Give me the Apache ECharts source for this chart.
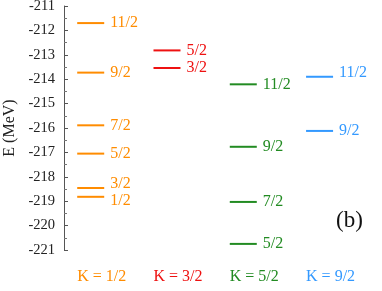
<!DOCTYPE html>
<html>
<head>
<meta charset="utf-8">
<script src="https://cdn.jsdelivr.net/npm/echarts@6/dist/echarts.min.js"></script>
<style>html,body{margin:0;padding:0;background:#fff}#c{width:382px;height:291px}</style>
</head>
<body>
<div id="c"></div>
<script>
// Band columns (K values) and their colours
var bands = ['K = 1/2', 'K = 3/2', 'K = 5/2', 'K = 9/2'];
var bandColors = ['#ff8c00', '#ee1111', '#228b22', '#3399ff'];
// Level energies (MeV) and spin labels per band
var k12Energies = [-211.70, -213.73, -215.89, -217.05, -218.46, -218.82];
var k12Spins = ['11/2', '9/2', '7/2', '5/2', '3/2', '1/2'];
var k32Energies = [-212.82, -213.54];
var k32Spins = ['5/2', '3/2'];
var k52Energies = [-214.21, -216.77, -219.03, -220.75];
var k52Spins = ['11/2', '9/2', '7/2', '5/2'];
var k92Energies = [-213.90, -216.12];
var k92Spins = ['11/2', '9/2'];
// y-axis ticks
var yTicks = [-221, -220, -219, -218, -217, -216, -215, -214, -213, -212, -211];

var allE = [k12Energies, k32Energies, k52Energies, k92Energies];
var allS = [k12Spins, k32Spins, k52Spins, k92Spins];
// small label vertical nudges (px) to avoid overlap (style)
var nudge = {'0_4': -4, '0_5': 4, '3_0': -4};

var data = [];
for (var b = 0; b < allE.length; b++) {
  for (var i = 0; i < allE[b].length; i++) {
    data.push([b, allE[b][i], allS[b][i], nudge[b + '_' + i] || 0]);
  }
}

var FONT = 'Liberation Serif';
var chart = echarts.init(document.getElementById('c'), null, {renderer: 'canvas'});
chart.setOption({
  animation: false,
  grid: {left: 64, right: 1.4, top: 6, bottom: 41, containLabel: false, outerBoundsMode: 'none'},
  xAxis: {type: 'value', min: -0.35, max: 3.8, show: false},
  yAxis: {
    type: 'value', min: yTicks[0], max: yTicks[yTicks.length - 1], interval: 1,
    name: 'E (MeV)', nameLocation: 'middle', nameGap: 45, nameRotate: 90,
    nameTextStyle: {fontFamily: FONT, fontSize: 16, color: '#222'},
    axisLine: {show: true, onZero: false, lineStyle: {color: '#555', width: 1}},
    axisTick: {show: true, inside: true, length: 4, lineStyle: {color: '#555'}},
    minorTick: {show: true, splitNumber: 2, length: 3, lineStyle: {color: '#777'}},
    splitLine: {show: false},
    axisLabel: {fontFamily: FONT, fontSize: 14.5, color: '#222', margin: 9,
      formatter: function (v) { return String(v); }}
  },
  series: [{
    type: 'custom',
    data: data,
    clip: false,
    renderItem: function (params, api) {
      var b = api.value(0), e = api.value(1);
      var p0 = api.coord([b - 0.177, e]);
      var p1 = api.coord([b + 0.177, e]);
      var d = data[params.dataIndex];
      return {
        type: 'group',
        children: [
          {type: 'line', shape: {x1: p0[0], y1: p0[1], x2: p1[0], y2: p1[1]},
            style: {stroke: bandColors[b], lineWidth: 2}},
          {type: 'text', x: p1[0] + 6, y: p0[1] + d[3],
            style: {text: d[2], fill: bandColors[b], font: '16px "' + FONT + '"',
              textAlign: 'left', textVerticalAlign: 'middle'}}
        ]
      };
    }
  }, {
    type: 'custom',
    data: bands.map(function (n, i) { return [i, yTicks[0]]; }),
    clip: false,
    renderItem: function (params, api) {
      var p = api.coord([api.value(0), api.value(1)]);
      var i = params.dataIndex;
      return {type: 'text', x: p[0] - 13.5, y: p[1] + 27,
        style: {text: bands[i], fill: bandColors[i], font: '16px "' + FONT + '"',
          textAlign: 'left', textVerticalAlign: 'middle'}};
    }
  }],
  graphic: [{type: 'text', left: 336, top: 209,
    style: {text: '(b)', fill: '#111', font: '23px "' + FONT + '"'}}]
});
</script>
</body>
</html>
